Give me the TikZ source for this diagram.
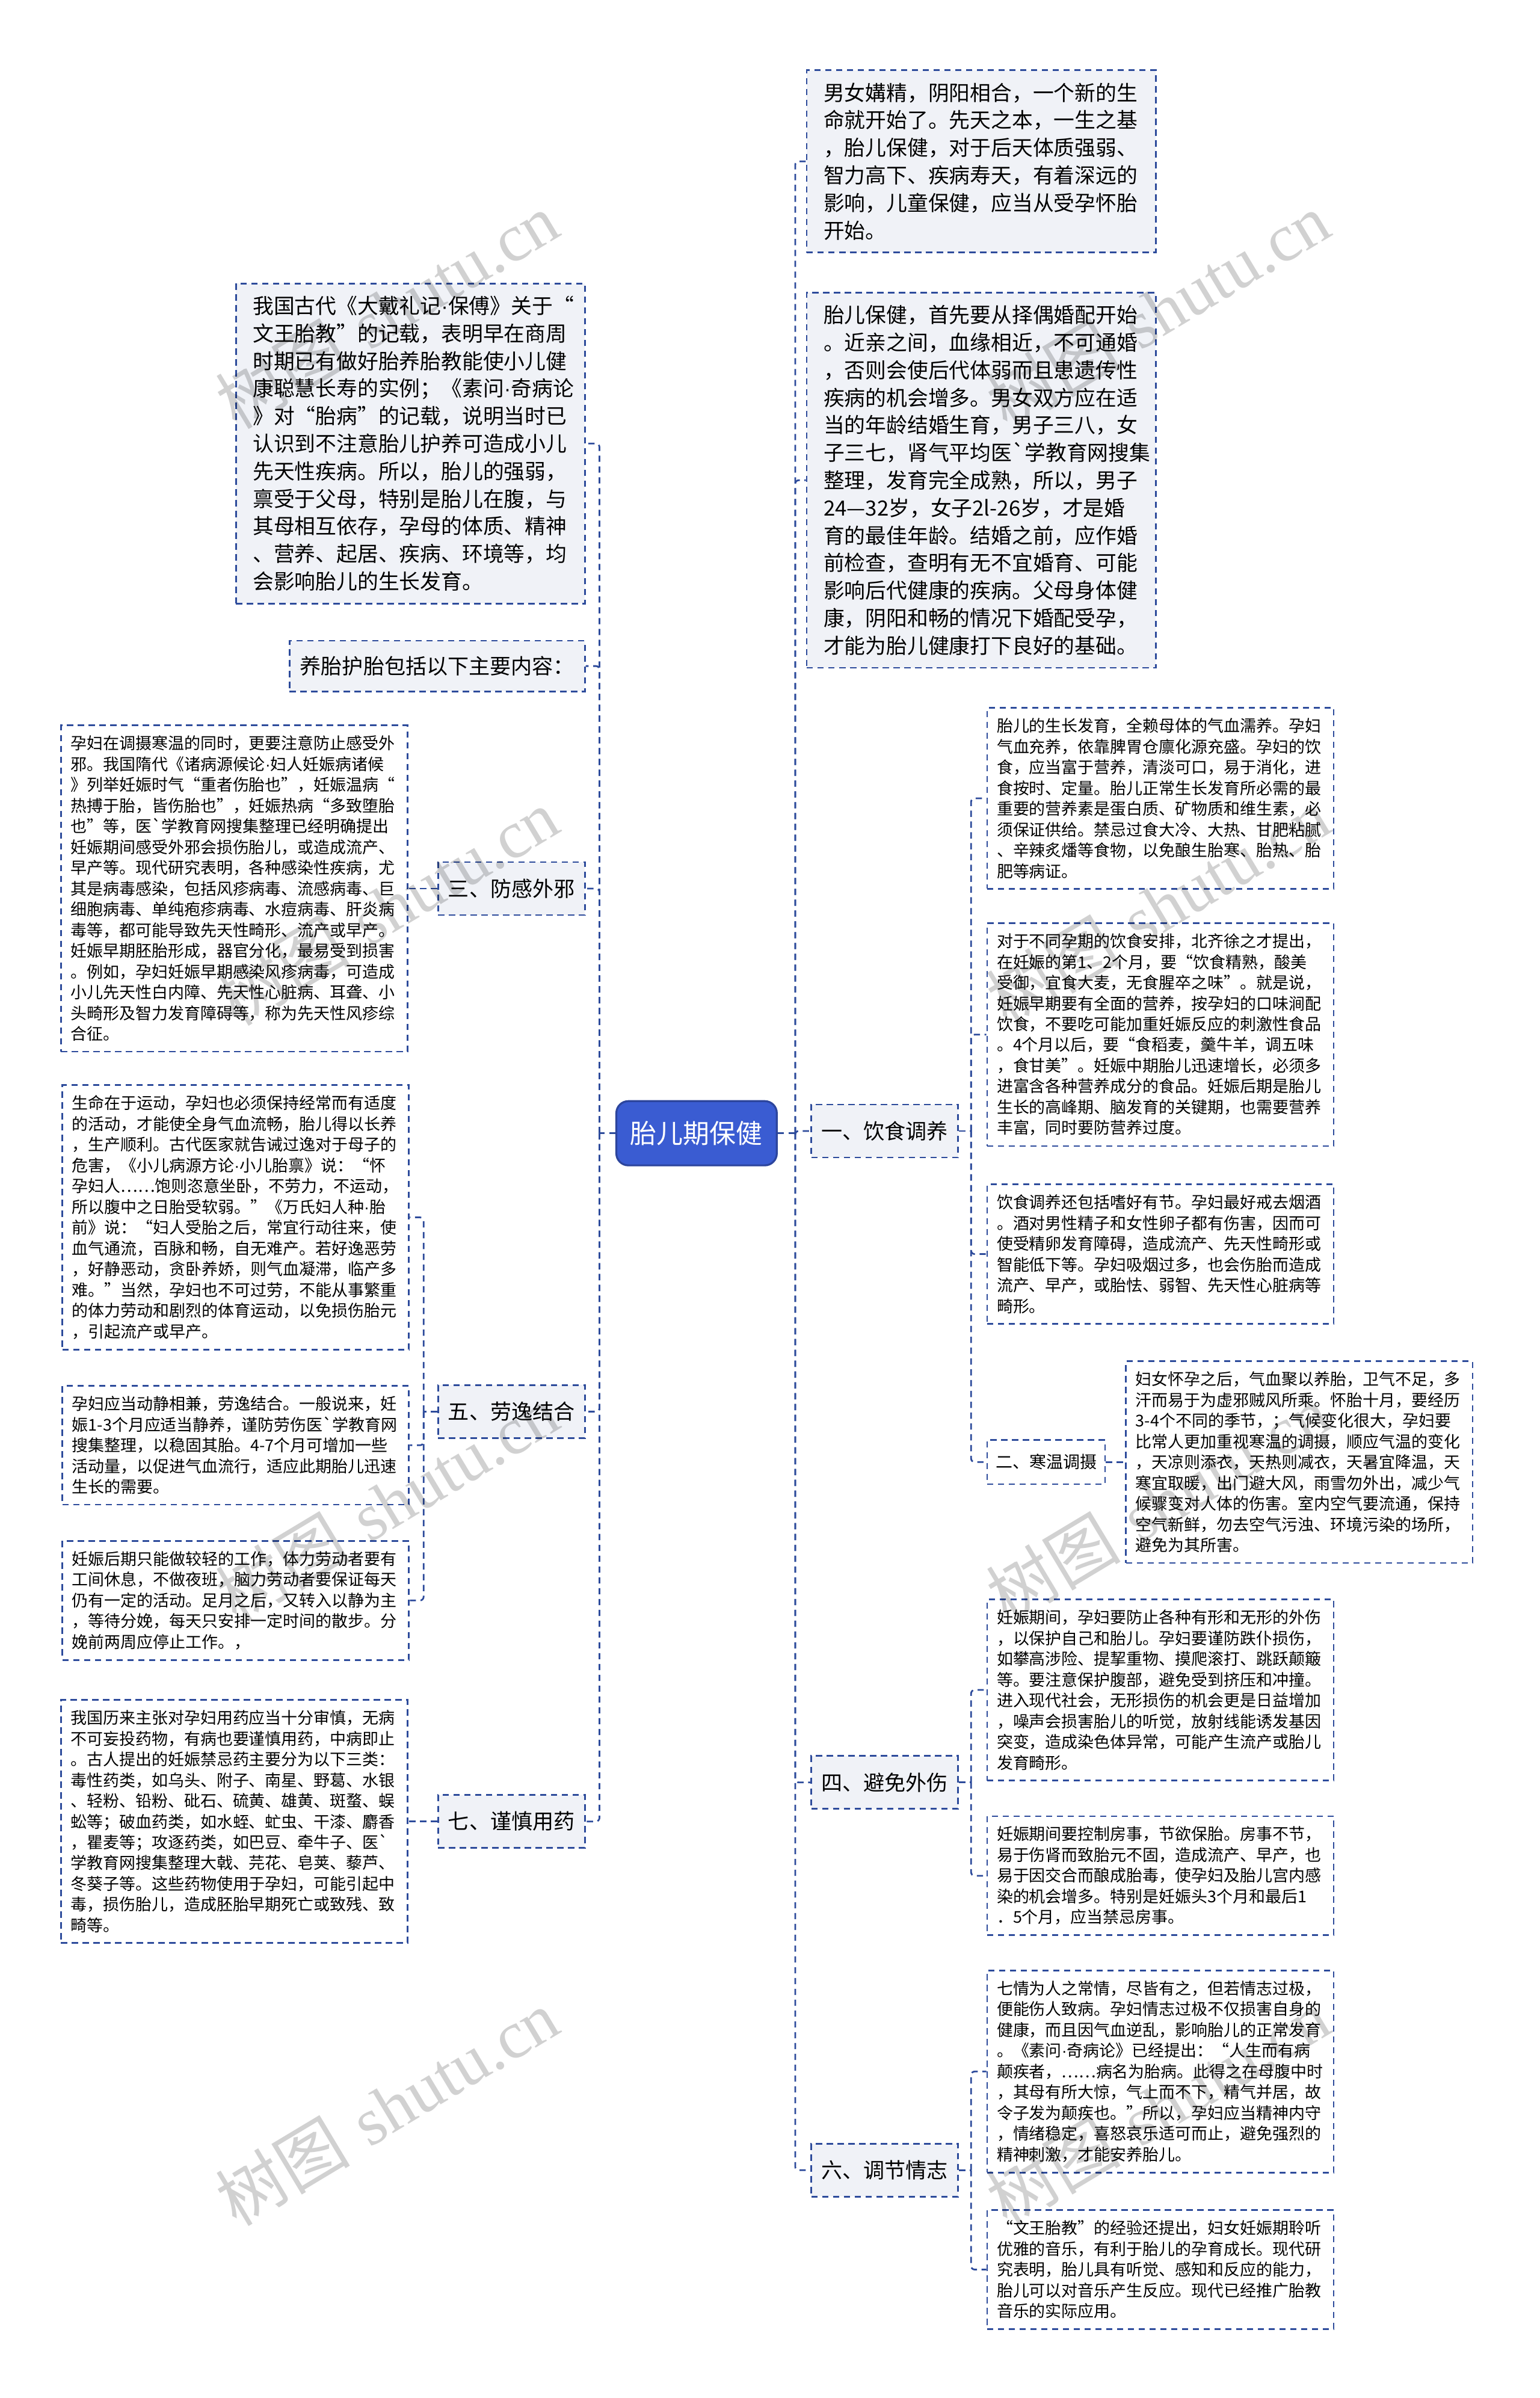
\documentclass[tikz,border=0pt]{standalone}
\usepackage{fontspec}
\usepackage{tikz}
\usetikzlibrary{positioning}
\newfontfamily\cjk{Noto Sans CJK SC}
\newfontfamily\wmlatin{Liberation Serif}
\newfontfamily\latinsans{Liberation Sans}
\definecolor{linkblue}{RGB}{45,75,155}
\definecolor{boxgray}{RGB}{240,242,247}
\definecolor{rootblue}{RGB}{58,92,210}
\newcommand\leaffont{\cjk\fontsize{6.74pt}{8.62pt}\selectfont}
\newcommand\bigfont{\cjk\fontsize{8.7pt}{11.45pt}\selectfont}
\newcommand\zhdot{{\latinsans ·}}

\begin{document}
\begin{tikzpicture}[
      x=0.6355pt, y=-0.6355pt,
      link/.style = {draw=linkblue, line width=0.7pt, dash pattern=on 2.6pt off 1.9pt, rounded corners=1.5pt},
      dashbox/.style = {draw=linkblue, line width=0.7pt, dash pattern=on 2.6pt off 1.9pt},
      bigbox/.style = {dashbox, fill=boxgray, font=\bigfont, align=left,
        text width=131pt, inner xsep=7pt, inner ysep=5.2pt},
      leaf/.style = {dashbox, fill=white, font=\leaffont, align=left,
        text width=136pt, inner xsep=4pt, inner ysep=4.3pt},
      branch/.style = {dashbox, fill=boxgray, font=\cjk\fontsize{8.77pt}{10pt}\selectfont,
        minimum width=61pt, minimum height=22pt, inner xsep=3pt},
      subbranch/.style = {dashbox, fill=white, font=\cjk\fontsize{7pt}{8pt}\selectfont,
        minimum width=49pt, minimum height=18.4pt, inner xsep=3pt},
      root/.style = {fill=rootblue, draw=rootblue!75!black, line width=0.8pt, rounded corners=5pt,
        text=white, font=\cjk\fontsize{11pt}{13pt}\selectfont, minimum width=66.7pt, minimum height=26.7pt},
      watermark/.style = {text=black, text opacity=0.18, rotate=31, font=\fontsize{28pt}{30pt}\selectfont}
    ]
  \useasboundingbox (0,0) rectangle (1007,1568);

  \node[root] (root) at (455.5,741) {胎儿期保健};

  \node[bigbox, anchor=west] (r1) at (527,105.5) {男女媾精，阴阳相合，一个新的生\\命就开始了。先天之本，一生之基\\，胎儿保健，对于后天体质强弱、\\智力高下、疾病寿天，有着深远的\\影响，儿童保健，应当从受孕怀胎\\开始。};
  \node[bigbox, anchor=west] (r2) at (527,314) {胎儿保健，首先要从择偶婚配开始\\。近亲之间，血缘相近，不可通婚\\，否则会使后代体弱而且患遗传性\\疾病的机会增多。男女双方应在适\\当的年龄结婚生育，男子三八，女\\子三七，肾气平均医`学教育网搜集\\整理，发育完全成熟，所以，男子\\24—32岁，女子2l-26岁，才是婚\\育的最佳年龄。结婚之前，应作婚\\前检查，查明有无不宜婚育、可能\\影响后代健康的疾病。父母身体健\\康，阴阳和畅的情况下婚配受孕，\\才能为胎儿健康打下良好的基础。};
  \node[branch, anchor=west] (lab1) at (530,739.5) {一、饮食调养};
  \node[branch, anchor=west] (lab4) at (530,1165.5) {四、避免外伤};
  \node[branch, anchor=west] (lab6) at (530,1419) {六、调节情志};

  \node[leaf, anchor=west] (r1a) at (645,522) {胎儿的生长发育，全赖母体的气血濡养。孕妇\\气血充养，依靠脾胃仓廪化源充盛。孕妇的饮\\食，应当富于营养，清淡可口，易于消化，进\\食按时、定量。胎儿正常生长发育所必需的最\\重要的营养素是蛋白质、矿物质和维生素，必\\须保证供给。禁忌过食大冷、大热、甘肥粘腻\\、辛辣炙燔等食物，以免酿生胎寒、胎热、胎\\肥等病证。};
  \node[leaf, anchor=west] (r1b) at (645,676.5) {对于不同孕期的饮食安排，北齐徐之才提出，\\在妊娠的第1、2个月，要“饮食精熟，酸美\\受御，宜食大麦，无食腥卒之味”。就是说，\\妊娠早期要有全面的营养，按孕妇的口味涧配\\饮食，不要吃可能加重妊娠反应的刺激性食品\\。4个月以后，要“食稻麦，羹牛羊，调五味\\，食甘美”。妊娠中期胎儿迅速增长，必须多\\进富含各种营养成分的食品。妊娠后期是胎儿\\生长的高峰期、脑发育的关键期，也需要营养\\丰富，同时要防营养过度。};
  \node[leaf, anchor=west] (r1c) at (645,820) {饮食调养还包括嗜好有节。孕妇最好戒去烟酒\\。酒对男性精子和女性卵子都有伤害，因而可\\使受精卵发育障碍，造成流产、先天性畸形或\\智能低下等。孕妇吸烟过多，也会伤胎而造成\\流产、早产，或胎怯、弱智、先天性心脏病等\\畸形。};
  \node[subbranch, anchor=west] (lab2) at (645,956) {二、寒温调摄};
  \node[leaf, right=8pt of lab2] (r2a) {妇女怀孕之后，气血聚以养胎，卫气不足，多\\汗而易于为虚邪贼风所乘。怀胎十月，要经历\\3-4个不同的季节，；气候变化很大，孕妇要\\比常人更加重视寒温的调摄，顺应气温的变化\\，天凉则添衣，天热则减衣，天暑宜降温，天\\寒宜取暖，出门避大风，雨雪勿外出，减少气\\候骤变对人体的伤害。室内空气要流通，保持\\空气新鲜，勿去空气污浊、环境污染的场所，\\避免为其所害。};
  \node[leaf, anchor=west] (r4a) at (645,1105) {妊娠期间，孕妇要防止各种有形和无形的外伤\\，以保护自己和胎儿。孕妇要谨防跌仆损伤，\\如攀高涉险、提挈重物、摸爬滚打、跳跃颠簸\\等。要注意保护腹部，避免受到挤压和冲撞。\\进入现代社会，无形损伤的机会更是日益增加\\，噪声会损害胎儿的听觉，放射线能诱发基因\\突变，造成染色体异常，可能产生流产或胎儿\\发育畸形。};
  \node[leaf, anchor=west] (r4b) at (645,1226.5) {妊娠期间要控制房事，节欲保胎。房事不节，\\易于伤肾而致胎元不固，造成流产、早产，也\\易于因交合而酿成胎毒，使孕妇及胎儿宫内感\\染的机会增多。特别是妊娠头3个月和最后1\\．5个月，应当禁忌房事。};
  \node[leaf, anchor=west] (r6a) at (645,1354.5) {七情为人之常情，尽皆有之，但若情志过极，\\便能伤人致病。孕妇情志过极不仅损害自身的\\健康，而且因气血逆乱，影响胎儿的正常发育\\。《素问\zhdot 奇病论》已经提出：“人生而有病\\颠疾者，……病名为胎病。此得之在母腹中时\\，其母有所大惊，气上而不下，精气并居，故\\令子发为颠疾也。”所以，孕妇应当精神内守\\，情绪稳定，喜怒哀乐适可而止，避免强烈的\\精神刺激，才能安养胎儿。};
  \node[leaf, anchor=west] (r6b) at (645,1484) {“文王胎教”的经验还提出，妇女妊娠期聆听\\优雅的音乐，有利于胎儿的孕育成长。现代研\\究表明，胎儿具有听觉、感知和反应的能力，\\胎儿可以对音乐产生反应。现代已经推广胎教\\音乐的实际应用。};

  \node[bigbox, anchor=east] (l1) at (383,290) {我国古代《大戴礼记\zhdot 保傅》关于“\\文王胎教”的记载，表明早在商周\\时期已有做好胎养胎教能使小儿健\\康聪慧长寿的实例；《素问\zhdot 奇病论\\》对“胎病”的记载，说明当时已\\认识到不注意胎儿护养可造成小儿\\先天性疾病。所以，胎儿的强弱，\\禀受于父母，特别是胎儿在腹，与\\其母相互依存，孕母的体质、精神\\、营养、起居、疾病、环境等，均\\会影响胎儿的生长发育。};
  \node[branch, anchor=east, minimum width=122.7pt, minimum height=21pt] (lhead) at (383,435.5) {养胎护胎包括以下主要内容：};
  \node[branch, anchor=east] (lab3) at (383,581) {三、防感外邪};
  \node[branch, anchor=east] (lab5) at (383,923) {五、劳逸结合};
  \node[branch, anchor=east] (lab7) at (383,1191) {七、谨慎用药};

  \node[leaf, left=12pt of lab3] (l3a) {孕妇在调摄寒温的同时，更要注意防止感受外\\邪。我国隋代《诸病源候论\zhdot 妇人妊娠病诸候\\》列举妊娠时气“重者伤胎也”，妊娠温病“\\热搏于胎，皆伤胎也”，妊娠热病“多致堕胎\\也”等，医`学教育网搜集整理已经明确提出\\妊娠期间感受外邪会损伤胎儿，或造成流产、\\早产等。现代研究表明，各种感染性疾病，尤\\其是病毒感染，包括风疹病毒、流感病毒、巨\\细胞病毒、单纯疱疹病毒、水痘病毒、肝炎病\\毒等，都可能导致先天性畸形、流产或早产。\\妊娠早期胚胎形成，器官分化，最易受到损害\\。例如，孕妇妊娠早期感染风疹病毒，可造成\\小儿先天性白内障、先天性心脏病、耳聋、小\\头畸形及智力发育障碍等，称为先天性风疹综\\合征。};
  \node[leaf, anchor=east] (l5a) at (268,796) {生命在于运动，孕妇也必须保持经常而有适度\\的活动，才能使全身气血流畅，胎儿得以长养\\，生产顺利。古代医家就告诫过逸对于母子的\\危害，《小儿病源方论\zhdot 小儿胎禀》说：“怀\\孕妇人……饱则恣意坐卧，不劳力，不运动，\\所以腹中之日胎受软弱。”《万氏妇人种\zhdot 胎\\前》说：“妇人受胎之后，常宜行动往来，使\\血气通流，百脉和畅，自无难产。若好逸恶劳\\，好静恶动，贪卧养娇，则气血凝滞，临产多\\难。”当然，孕妇也不可过劳，不能从事繁重\\的体力劳动和剧烈的体育运动，以免损伤胎元\\，引起流产或早产。};
  \node[leaf, anchor=east] (l5b) at (268,945) {孕妇应当动静相兼，劳逸结合。一般说来，妊\\娠1-3个月应适当静养，谨防劳伤医`学教育网\\搜集整理，以稳固其胎。4-7个月可增加一些\\活动量，以促进气血流行，适应此期胎儿迅速\\生长的需要。};
  \node[leaf, anchor=east] (l5c) at (268,1046.5) {妊娠后期只能做较轻的工作，体力劳动者要有\\工间休息，不做夜班，脑力劳动者要保证每天\\仍有一定的活动。足月之后，又转入以静为主\\，等待分娩，每天只安排一定时间的散步。分\\娩前两周应停止工作。，};
  \node[leaf, left=12pt of lab7] (l7a) {我国历来主张对孕妇用药应当十分审慎，无病\\不可妄投药物，有病也要谨慎用药，中病即止\\。古人提出的妊娠禁忌药主要分为以下三类：\\毒性药类，如乌头、附子、南星、野葛、水银\\、轻粉、铅粉、砒石、硫黄、雄黄、斑蝥、蜈\\蚣等；破血药类，如水蛭、虻虫、干漆、麝香\\，瞿麦等；攻逐药类，如巴豆、牵牛子、医`\\学教育网搜集整理大戟、芫花、皂荚、藜芦、\\冬葵子等。这些药物使用于孕妇，可能引起中\\毒，损伤胎儿，造成胚胎早期死亡或致残、致\\畸等。};

  \coordinate (rtrunk) at (520,741);
  \coordinate (ltrunk) at (392,741);
  \coordinate (sub1) at (635,739.5);
  \coordinate (sub4) at (635,1165.5);
  \coordinate (sub6) at (635,1419);
  \coordinate (sub5) at (277,923);

  \draw[link] (root.east) -- (rtrunk);
  \foreach \n in {r1, r2, lab1, lab4, lab6}
    \draw[link] (rtrunk) |- (\n.west);
  \draw[link] (root.west) -- (ltrunk);
  \foreach \n in {l1, lhead, lab3, lab5, lab7}
    \draw[link] (ltrunk) |- (\n.east);

  \draw[link] (lab1.east) -- (sub1);
  \foreach \n in {r1a, r1b, r1c, lab2}
    \draw[link] (sub1) |- (\n.west);
  \draw[link] (lab2.east) -- (r2a.west);
  \draw[link] (lab4.east) -- (sub4);
  \foreach \n in {r4a, r4b}
    \draw[link] (sub4) |- (\n.west);
  \draw[link] (lab6.east) -- (sub6);
  \foreach \n in {r6a, r6b}
    \draw[link] (sub6) |- (\n.west);

  \draw[link] (lab3.west) -- (l3a.east);
  \draw[link] (lab5.west) -- (sub5);
  \foreach \n in {l5a, l5b, l5c}
    \draw[link] (sub5) |- (\n.east);
  \draw[link] (lab7.west) -- (l7a.east);

  \foreach \wx/\wy in {253/203, 757/203, 253/593, 757/593, 253/983, 757/983, 253/1378, 757/1378}
    \node[watermark] (wm\wx\wy) at (\wx,\wy) {{\cjk 树图} {\wmlatin shutu.cn}};
\end{tikzpicture}
\end{document}
